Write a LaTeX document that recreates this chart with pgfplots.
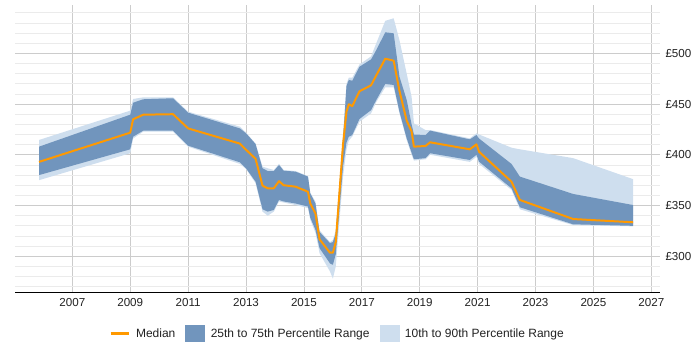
\documentclass[border=0pt]{standalone}
\usepackage{fontspec}
\setmainfont{Liberation Sans}
\usepackage{pgfplots}
\pgfplotsset{compat=1.18}
\usepgfplotslibrary{fillbetween}
\usepackage{pgfplotstable}

\definecolor{medorange}{RGB}{255,153,0}
\definecolor{iqr}{RGB}{113,149,189}
\definecolor{idr}{RGB}{206,222,238}
\definecolor{txt}{RGB}{34,34,34}

% Daily rate percentiles over time
\pgfplotstableread{
x       p10    p25    med    p75    p90
2005.85 375.0  380.0  393.0  408.0  414.6
2009.00 401.5  405.4  421.8  439.5  443.5
2009.10 416.0  417.8  435.0  451.3  455.0
2009.45 422.8  423.8  439.5  454.7  456.6
2010.48 422.8  423.8  440.0  455.7  456.6
2011.00 408.0  409.0  426.0  441.5  442.5
2012.79 391.0  392.6  411.0  426.0  427.7
2013.00 386.0  386.7  405.0  421.2  422.0
2013.33 372.0  373.5  396.0  410.6  411.0
2013.57 344.0  346.3  369.6  386.7  388.3
2013.75 340.0  344.0  367.0  384.0  386.7
2013.96 344.0  345.6  367.0  384.0  385.0
2014.14 354.0  355.5  374.0  390.0  391.0
2014.30 353.0  354.0  370.0  384.3  385.0
2014.71 350.5  352.0  368.6  383.4  384.0
2015.14 347.5  349.0  363.6  378.5  379.0
2015.22 336.0  338.0  352.0  362.0  362.5
2015.40 323.0  326.0  342.0  352.0  353.8
2015.54 303.0  308.0  316.7  324.0  325.6
2015.90 285.0  293.0  303.5  313.0  314.0
2016.00 278.0  291.6  303.5  314.0  316.0
2016.10 290.0  302.0  314.0  322.7  325.6
2016.35 378.0  388.0  410.0  414.6  418.0
2016.47 405.0  412.0  442.5  467.8  470.0
2016.55 414.0  417.8  449.8  473.7  476.0
2016.67 418.0  419.5  448.0  473.0  476.0
2016.92 432.6  435.3  462.6  486.8  489.0
2017.32 440.8  444.0  468.5  494.0  497.0
2017.50 452.0  454.0  478.3  503.2  510.0
2017.81 466.5  469.8  494.7  520.7  532.0
2018.10 466.5  468.8  492.7  519.7  534.5
2018.30 440.8  442.5  463.0  477.0  513.0
2018.55 414.6  416.2  433.6  454.0  480.0
2018.72 400.0  402.0  423.0  430.0  457.0
2018.80 394.3  395.6  408.0  420.0  431.0
2019.20 395.6  396.7  408.7  419.5  424.4
2019.36 400.0  401.5  412.3  423.8  424.4
2020.73 393.0  394.9  405.4  415.2  416.2
2020.96 398.0  400.0  410.3  419.5  421.2
2021.05 391.0  393.2  403.0  416.0  420.0
2022.17 365.4  367.0  373.5  391.0  407.0
2022.46 346.3  348.3  355.5  378.5  405.4
2024.30 330.7  331.5  336.7  361.4  396.7
2026.37 329.5  330.0  333.5  350.5  376.0
}\rates

\begin{document}
\begin{tikzpicture}
\begin{axis}[
  scale only axis,
  width=645bp, height=287bp,
  xmin=2005.02, xmax=2027.3,
  ymin=264.8, ymax=547.6,
  axis x line*=bottom,
  axis y line*=right,
  y axis line style={draw=none},
  x axis line style={black, line width=0.8pt},
  xtick={2007,2009,...,2027},
  ytick={300,350,...,500},
  minor ytick={270,280,...,540},
  xmajorgrids, ymajorgrids, yminorgrids,
  major grid style={color=black!20, line width=0.7pt},
  minor grid style={color=black!8, line width=0.7pt},
  major tick length=0pt, minor tick length=0pt,
  /pgf/number format/assume math mode=true,
  /pgf/number format/1000 sep={},
  xticklabel style={font=\fontsize{11.6bp}{14bp}\selectfont, text=txt, yshift=-3bp},
  yticklabel style={font=\fontsize{11.6bp}{14bp}\selectfont, text=txt, xshift=2bp},
  yticklabel={£\pgfmathprintnumber{\tick}},
  legend style={at={(0.5,-0.145)}, anchor=center, draw=none,
    font=\fontsize{12bp}{14bp}\selectfont, text=txt,
    /tikz/every even column/.append style={column sep=8bp},
    /tikz/every odd column/.append style={column sep=4bp}},
  legend columns=3,
]
\addlegendimage{legend image code/.code={\draw[medorange, line width=2.8pt] (0bp,0bp) -- (18bp,0bp);}}
\addlegendentry{Median}
\addlegendimage{legend image code/.code={\fill[iqr] (0bp,-8bp) rectangle (19bp,8bp);}}
\addlegendentry{25th to 75th Percentile Range}
\addlegendimage{legend image code/.code={\fill[idr] (0bp,-8bp) rectangle (19bp,8bp);}}
\addlegendentry{10th to 90th Percentile Range}

% 10th to 90th percentile band
\addplot[draw=none, name path=p90, forget plot] table[x=x, y=p90] {\rates};
\addplot[draw=none, name path=p10, forget plot] table[x=x, y=p10] {\rates};
\addplot[idr, forget plot] fill between[of=p90 and p10];

% 25th to 75th percentile band
\addplot[draw=none, name path=p75, forget plot] table[x=x, y=p75] {\rates};
\addplot[draw=none, name path=p25, forget plot] table[x=x, y=p25] {\rates};
\addplot[iqr, forget plot] fill between[of=p75 and p25];

% median
\addplot[medorange, line width=2pt, line join=round, forget plot] table[x=x, y=med] {\rates};
\end{axis}
\pgfresetboundingbox
\path[use as bounding box] (-15bp,-58bp) rectangle (685bp,292bp);
\end{tikzpicture}
\end{document}
